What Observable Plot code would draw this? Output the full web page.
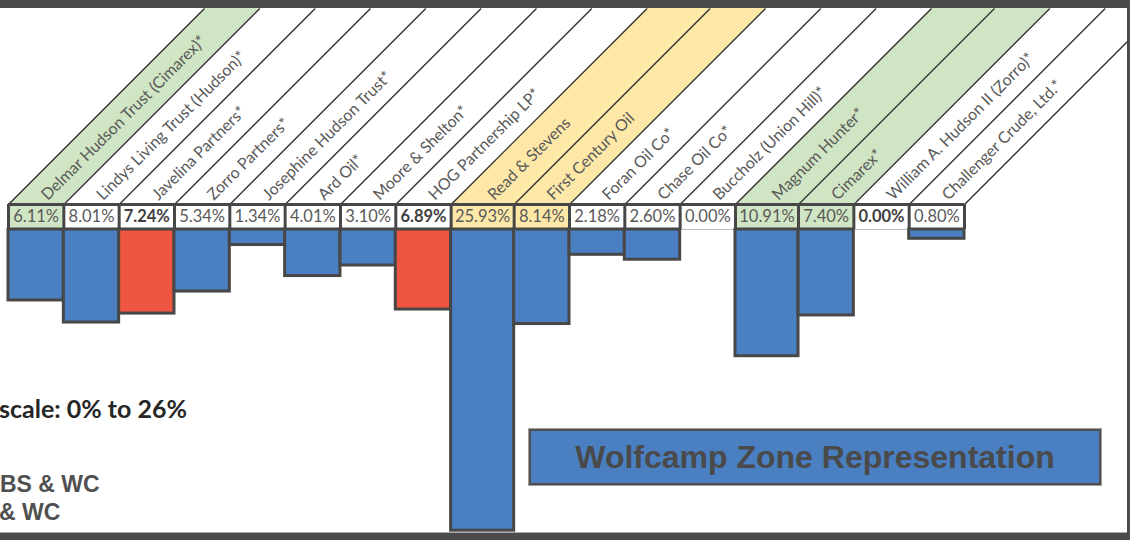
<!DOCTYPE html>
<html>
<head>
<meta charset="utf-8">
<script src="https://cdn.jsdelivr.net/npm/d3@7"></script>
<script src="https://cdn.jsdelivr.net/npm/@observablehq/plot@0.6"></script>
<style>
  html, body { margin: 0; padding: 0; background: #fff; overflow: hidden; }
  #slide { position: relative; width: 1130px; height: 540px; overflow: hidden; background: #fff; font-family: Lato, "Noto Sans", sans-serif; }
  #chart { position: absolute; left: 0; top: 0; }
  .frame { position: absolute; background: #4b4b4d; }
  .note { position: absolute; white-space: nowrap; }
  #wolfcamp { position: absolute; left: 529px; top: 429px; width: 568px; height: 52px; background: #4a7fc1;
    border: 2px solid #505050; outline: 1px solid #a0a0a0; color: #4a4a4a; font: bold 32px "Liberation Sans", Arial, sans-serif;
    display: flex; align-items: center; justify-content: center; }
</style>
</head>
<body>
<div id="slide">
  <div id="chart"></div>
  <div class="note" style="left:-1px; top:393px; font: bold 25px Lato, sans-serif; color:#262626;">scale: 0% to 26%</div>
  <div class="note" style="left:0px; top:471px; font: bold 23px 'Liberation Sans', Arial, sans-serif; color:#505050;">BS &amp; WC</div>
  <div class="note" style="left:-1px; top:499px; font: bold 23px 'Liberation Sans', Arial, sans-serif; color:#505050;">&amp; WC</div>
  <div id="wolfcamp">Wolfcamp Zone Representation</div>
  <div class="frame" style="left:0; top:0; width:1130px; height:8px;"></div>
  <div class="frame" style="left:1127px; top:0; width:3px; height:540px;"></div>
  <div style="position:absolute; left:0; top:532px; width:1127px; height:1px; background:#a8a8a8;"></div>
  <div class="frame" style="left:0; top:533px; width:1130px; height:7px;"></div>
</div>
<script>
// ---- data ----
const operators = [
  "Delmar Hudson Trust (Cimarex)*",
  "Lindys Living Trust (Hudson)*",
  "Javelina Partners*",
  "Zorro Partners*",
  "Josephine Hudson Trust*",
  "Ard Oil*",
  "Moore & Shelton*",
  "HOG Partnership LP*",
  "Read & Stevens",
  "First Century Oil",
  "Foran Oil Co*",
  "Chase Oil Co*",
  "Buccholz (Union Hill)*",
  "Magnum Hunter*",
  "Cimarex*",
  "William A. Hudson II (Zorro)*",
  "Challenger Crude, Ltd.*"
];
const wcShare = [6.11, 8.01, 7.24, 5.34, 1.34, 4.01, 3.10, 6.89, 25.93, 8.14, 2.18, 2.60, 0.00, 10.91, 7.40, 0.00, 0.80];
const headerGroup = ["green", "", "", "", "", "", "", "", "yellow", "yellow", "", "", "", "green", "green", "", ""];
const barGroup = ["blue", "blue", "red", "blue", "blue", "blue", "blue", "red", "blue", "blue", "blue", "blue", "blue", "blue", "blue", "blue", "blue"];
const boldLabel = [false, false, true, false, false, false, false, true, false, false, false, false, false, false, false, true, false];
const scaleMax = 26;

// ---- styling ----
const shadeColor = {green: "#d0e5c3", yellow: "#fde8a8", "": "#ffffff"};
const barColor = {blue: "#4a7fc1", red: "#ef5641"};
const dark = "#474747";
const textGray = "#595959";

// column widths follow the label width (two-digit shares get wider cells)
let acc = 0;
const cols = operators.map((name, i) => {
  const w = wcShare[i] >= 10 ? 63 : 55.3;
  const c = {name, value: wcShare[i], x1: acc, x2: acc + w, shade: headerGroup[i], tone: barGroup[i], bold: boldLabel[i]};
  acc += w;
  return c;
});
const total = acc;
const bounds = [0, ...cols.map(c => c.x2)];

// layout (pixels)
const left = 8, right = 964, barTop = 229, barBottom = 531, cellH = 25, headerH = 196;
const pxX = (right - left) / total;
const pxY = (barBottom - barTop) / scaleMax;
const yCellTop = -cellH / pxY;
const yHeaderTop = -(cellH + headerH) / pxY;
const shift = headerH / pxX;

const bands = cols.filter(c => c.shade).flatMap(c => [
  {id: c.name, y: yCellTop, x1: c.x1, x2: c.x2, fill: shadeColor[c.shade]},
  {id: c.name, y: yHeaderTop, x1: c.x1 + shift, x2: c.x2 + shift, fill: shadeColor[c.shade]}
]);

const chart = Plot.plot({
  width: 1130,
  height: 540,
  margin: 0,
  x: {domain: [0, total], range: [left, right], axis: null},
  y: {domain: [0, scaleMax], range: [barTop, barBottom], axis: null},
  color: {type: "identity"},
  style: {fontFamily: "Lato, 'Noto Sans', sans-serif", background: "white", overflow: "hidden"},
  marks: [
    Plot.areaX(bands, {y: "y", x1: "x1", x2: "x2", z: "id", fill: "fill"}),
    Plot.link(bounds, {x1: b => b, y1: () => yCellTop, x2: b => b + shift, y2: () => yHeaderTop, stroke: "#333", strokeWidth: 1.4}),
    Plot.text(cols, {x: c => (c.x1 + c.x2) / 2, y: () => yCellTop, text: "name", rotate: -45, textAnchor: "start",
      dx: 8, dy: -7, fontSize: 16, fill: textGray}),
    Plot.rect(cols, {x1: "x1", x2: "x2", y1: () => yCellTop, y2: () => 0, fill: c => shadeColor[c.shade]}),
    Plot.ruleY([0], {x1: () => 0, x2: () => total, stroke: "#bdbdbd", strokeWidth: 1}),
    Plot.rect(cols.filter(c => c.value > 0), {x1: "x1", x2: "x2", y1: () => 0, y2: "value",
      fill: c => barColor[c.tone], stroke: dark, strokeWidth: 3}),
    Plot.ruleY([yCellTop], {x1: () => 0, x2: () => total, stroke: dark, strokeWidth: 3}),
    Plot.ruleX(bounds, {y1: () => yCellTop, y2: () => 0, stroke: dark, strokeWidth: 3}),
    Plot.text(cols.filter(c => !c.bold), {x: c => (c.x1 + c.x2) / 2, y: () => yCellTop / 2, text: c => c.value.toFixed(2) + "%",
      fontSize: 16.5, fill: textGray}),
    Plot.text(cols.filter(c => c.bold), {x: c => (c.x1 + c.x2) / 2, y: () => yCellTop / 2, text: c => c.value.toFixed(2) + "%",
      fontSize: 16.5, fontWeight: "bold", fill: "#3f3f3f"})
  ]
});
document.getElementById("chart").appendChild(chart);
</script>
</body>
</html>
